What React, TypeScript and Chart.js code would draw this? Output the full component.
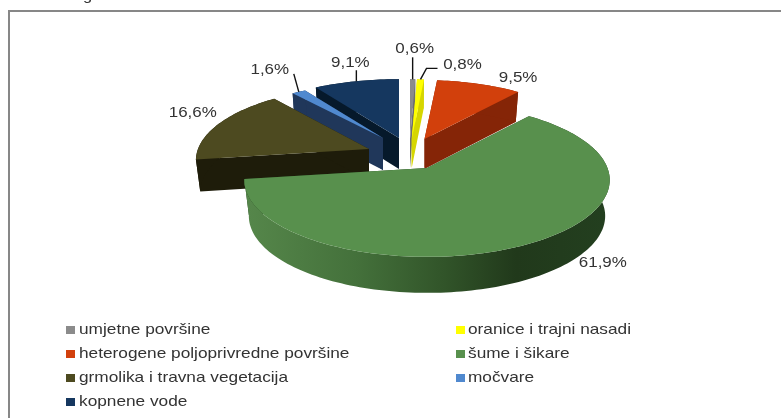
import React, { useEffect, useRef } from "react";
import { Chart, registerables } from "chart.js";

Chart.register(...registerables);

// ---------- data ----------
const categories = [
  "umjetne površine",
  "oranice i trajni nasadi",
  "heterogene poljoprivredne površine",
  "šume i šikare",
  "grmolika i travna vegetacija",
  "močvare",
  "kopnene vode",
];
const shares = [0.6, 0.8, 9.5, 61.9, 16.6, 1.6, 9.1];
const shareLabels = ["0,6%", "0,8%", "9,5%", "61,9%", "16,6%", "1,6%", "9,1%"];

// ---------- styles ----------
const topColors = ["#8b8b8b", "#ffff00", "#d2400c", "#58904d", "#4d4a20", "#5089cf", "#15375f"];
const wallColors = ["#6e6e6e", "#d6d600", "#852507", "#24401f", "#1e1c0a", "#20375a", "#06192b"];
// per-slice projection of the exploded 3D pie: apex, radii, depth
const apexX = [410, 411.7, 424.5, 427, 369, 383, 399];
const apexY = [139, 139, 139, 168, 149, 138, 138];
const radX = [162, 162, 166, 180.5, 171, 163, 174];
const radY = [69, 69, 68, 75, 72, 64, 68];
const depths = [29, 29, 30, 36, 32, 32, 31];
const perspective = 0.156;
const paintOrder = [6, 5, 4, 0, 1, 2, 3];
// label centre and leader bends, relative to the rim point at a slice's mid angle
const labelDX = [2, 42, 39, 73, -26, -29, -6];
const labelDY = [-30, -15, -6, 19, -11, -22, -18];
const leaders: number[][][] = [
  [[0, -22]],
  [[6, -11], [17, -11]],
  [],
  [],
  [],
  [[-5, -18]],
  [[0, -11]],
];
const FONT = '15px "Liberation Sans", Arial, sans-serif';
const TEXT = "#333333";

function rim(i: number, theta: number) {
  const f = 1 / (1 + perspective * Math.cos(theta));
  return {
    dx: radX[i] * Math.sin(theta) * f,
    dy: -radY[i] * Math.cos(theta) * f,
  };
}

function stretchedText(ctx: CanvasRenderingContext2D, s: string, x: number, y: number, sx: number, align: CanvasTextAlign) {
  ctx.save();
  ctx.font = FONT;
  ctx.fillStyle = TEXT;
  ctx.textAlign = align;
  ctx.textBaseline = "middle";
  ctx.translate(x, y);
  ctx.scale(sx, 1);
  ctx.fillText(s, 0, 0);
  ctx.restore();
}

const pie3d = {
  id: "pie3d",
  beforeDatasetsDraw(chart: any) {
    const ctx: CanvasRenderingContext2D = chart.ctx;
    const arcs = chart.getDatasetMeta(0).data;
    const shrink = 0.975;

    // frame and the clipped caption above it
    ctx.save();
    ctx.fillStyle = "#878787";
    ctx.fillRect(8, 10, 773, 2);
    ctx.fillRect(8, 10, 2, 408);
    ctx.restore();

    paintOrder.forEach((i) => {
      const a0 = arcs[i].startAngle + Math.PI / 2;
      const a1 = arcs[i].endAngle + Math.PI / 2;
      const ax = apexX[i];
      const ay = apexY[i];
      const d = depths[i];
      const steps = Math.max(2, Math.ceil((a1 - a0) * 40));
      const pts: { dx: number; dy: number }[] = [];
      for (let s = 0; s <= steps; s++) pts.push(rim(i, a0 + ((a1 - a0) * s) / steps));

      const first = pts[0];
      const last = pts[pts.length - 1];
      ctx.fillStyle = wallColors[i];
      // the two cut faces
      [first, last].forEach((p) => {
        ctx.beginPath();
        ctx.moveTo(ax, ay);
        ctx.lineTo(ax + p.dx, ay + p.dy);
        ctx.lineTo(ax + p.dx * shrink, ay + p.dy + d);
        ctx.lineTo(ax, ay + d);
        ctx.closePath();
        ctx.fill();
      });
      // the outer wall
      if (i === 3) {
        const g = ctx.createLinearGradient(ax - 178, 0, ax + 178, 0);
        g.addColorStop(0, "#55864a");
        g.addColorStop(0.3, "#44713b");
        g.addColorStop(0.55, "#315429");
        g.addColorStop(0.75, "#21391b");
        g.addColorStop(1, "#233f1f");
        ctx.fillStyle = g;
      }
      ctx.beginPath();
      pts.forEach((p, k) => {
        const x = ax + p.dx;
        const y = ay + p.dy;
        if (k === 0) ctx.moveTo(x, y);
        else ctx.lineTo(x, y);
      });
      for (let k = pts.length - 1; k >= 0; k--) {
        ctx.lineTo(ax + pts[k].dx * shrink, ay + pts[k].dy + d);
      }
      ctx.closePath();
      ctx.fill();
      // top face
      ctx.fillStyle = topColors[i];
      ctx.beginPath();
      ctx.moveTo(ax, ay);
      pts.forEach((p) => ctx.lineTo(ax + p.dx, ay + p.dy));
      ctx.closePath();
      ctx.fill();
    });

    // leaders and value labels
    arcs.forEach((arc: any, i: number) => {
      const mid = (arc.startAngle + arc.endAngle) / 2 + Math.PI / 2;
      const p = rim(i, mid);
      const x = apexX[i] + p.dx;
      const y = apexY[i] + p.dy;
      if (leaders[i].length) {
        ctx.save();
        ctx.strokeStyle = "#111";
        ctx.lineWidth = 1.4;
        ctx.beginPath();
        ctx.moveTo(x, y);
        leaders[i].forEach(([lx, ly]) => ctx.lineTo(x + lx, y + ly));
        ctx.stroke();
        ctx.restore();
      }
      stretchedText(ctx, shareLabels[i], x + labelDX[i], y + labelDY[i], 1.13, "center");
    });

    // legend, in two columns read row by row
    const colSwatch = [66, 456];
    const colText = [79, 468];
    const rowY = [330, 354, 378, 402];
    categories.forEach((label, i) => {
      const c = i % 2;
      const r = Math.floor(i / 2);
      ctx.fillStyle = topColors[i];
      ctx.fillRect(colSwatch[c], rowY[r] - 4, 9, 8);
      stretchedText(ctx, label, colText[c], rowY[r], 1.15, "left");
    });
    stretchedText(ctx, "g", 83, -4, 1.1, "left");
    return false;
  },
};

export default function App() {
  const ref = useRef<HTMLCanvasElement>(null);
  useEffect(() => {
    const chart = new Chart(ref.current as HTMLCanvasElement, {
      type: "pie",
      data: {
        labels: categories,
        datasets: [{ data: shares, backgroundColor: topColors, borderWidth: 0 }],
      },
      options: {
        animation: false,
        responsive: false,
        plugins: { legend: { display: false }, tooltip: { enabled: false } },
      },
      plugins: [pie3d],
    } as any);
    return () => chart.destroy();
  }, []);
  return (
    <div style={{ position: "fixed", left: 0, top: 0, width: 781, height: 418, background: "#fff" }}>
      <canvas ref={ref} width={781} height={418} style={{ display: "block" }} />
    </div>
  );
}
